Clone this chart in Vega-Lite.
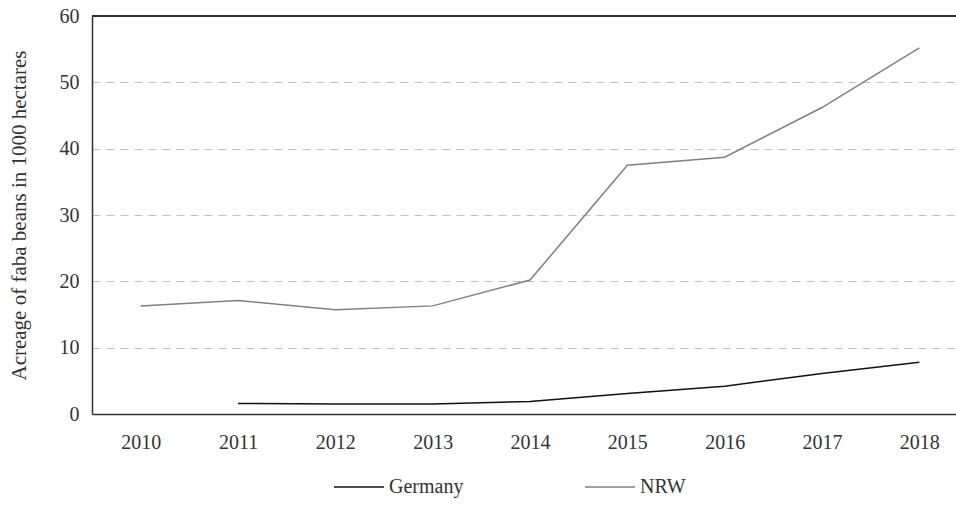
{
  "$schema": "https://vega.github.io/schema/vega-lite/v6.json",
  "autosize": "none",
  "width": 876,
  "height": 398,
  "padding": {"left": 92, "top": 16, "right": 0, "bottom": 94},
  "background": "white",
  "config": {
    "font": "Liberation Serif",
    "view": {"stroke": null},
    "axis": {"labelFont": "Liberation Serif", "titleFont": "Liberation Serif", "labelColor": "#333333", "titleColor": "#333333", "labelFontSize": 20, "titleFontSize": 21, "titleFontWeight": "normal"}
  },
  "data": {
    "values": [
      {"year": "2010", "series": "NRW", "value": 16.3},
      {"year": "2011", "series": "NRW", "value": 17.1},
      {"year": "2012", "series": "NRW", "value": 15.7},
      {"year": "2013", "series": "NRW", "value": 16.3},
      {"year": "2014", "series": "NRW", "value": 20.2},
      {"year": "2015", "series": "NRW", "value": 37.5},
      {"year": "2016", "series": "NRW", "value": 38.7},
      {"year": "2017", "series": "NRW", "value": 46.2},
      {"year": "2018", "series": "NRW", "value": 55.2},
      {"year": "2011", "series": "Germany", "value": 1.6},
      {"year": "2012", "series": "Germany", "value": 1.5},
      {"year": "2013", "series": "Germany", "value": 1.5},
      {"year": "2014", "series": "Germany", "value": 1.9},
      {"year": "2015", "series": "Germany", "value": 3.1},
      {"year": "2016", "series": "Germany", "value": 4.2},
      {"year": "2017", "series": "Germany", "value": 6.1},
      {"year": "2018", "series": "Germany", "value": 7.8}
    ]
  },
  "layer": [
    {
      "mark": {"type": "line", "strokeWidth": 1.5},
      "encoding": {
        "x": {"field": "year", "type": "ordinal", "scale": {"type": "point", "padding": 0.5},
          "axis": {"title": null, "labelAngle": 0, "ticks": false, "domainColor": "#333333", "domainWidth": 1.5, "labelPadding": 18, "grid": false}},
        "y": {"field": "value", "type": "quantitative", "scale": {"domain": [0, 60]},
          "axis": {"title": "Acreage of faba beans in 1000 hectares", "values": [0, 10, 20, 30, 40, 50, 60], "ticks": false, "domainColor": "#333333", "domainWidth": 1.5, "labelPadding": 13, "titlePadding": 30, "grid": true, "gridDash": [8, 6], "gridColor": "#c0c0c0", "gridWidth": 1}},
        "color": {"field": "series", "type": "nominal",
          "scale": {"domain": ["Germany", "NRW"], "range": ["#111111", "#808080"]},
          "legend": {"title": null, "orient": "none", "legendX": 241, "legendY": 445, "direction": "horizontal", "symbolType": "stroke", "symbolSize": 2500, "symbolStrokeWidth": 1.5, "labelFontSize": 20, "labelFont": "Liberation Serif", "labelColor": "#333333", "labelOffset": 4, "columnPadding": 118}}
      }
    },
    {
      "mark": {"type": "rule", "color": "#333333", "strokeWidth": 1.5},
      "encoding": {"y": {"datum": 60}}
    }
  ]
}
